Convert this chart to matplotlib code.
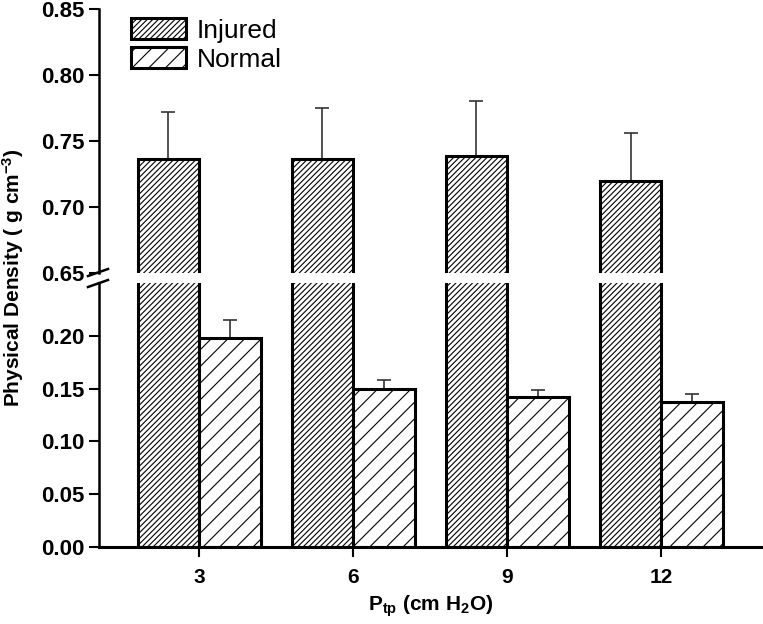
import numpy as np
import matplotlib
matplotlib.use('Agg')
import matplotlib.pyplot as plt
from matplotlib.lines import Line2D

plt.rcParams['font.family'] = 'Liberation Sans'
plt.rcParams['mathtext.fontset'] = 'custom'
plt.rcParams['mathtext.rm'] = 'Liberation Sans'
plt.rcParams['mathtext.bf'] = 'Liberation Sans:bold'
plt.rcParams['mathtext.it'] = 'Liberation Sans:italic'
plt.rcParams['hatch.linewidth'] = 0.8

# data
pressures = ['3', '6', '9', '12']
injured = [0.736, 0.736, 0.739, 0.720]
injured_err = [0.036, 0.039, 0.041, 0.036]
normal = [0.198, 0.150, 0.142, 0.137]
normal_err = [0.017, 0.008, 0.007, 0.008]
top_ticks = [0.65, 0.70, 0.75, 0.80, 0.85]
bot_ticks = [0.00, 0.05, 0.10, 0.15, 0.20]

x = np.arange(len(pressures))
w = 0.4

fig = plt.figure(figsize=(7.63, 6.24), dpi=100)
left, right = 99 / 763, 1.0
ax_top = fig.add_axes([left, 1 - 273 / 624, right - left, 264 / 624])
ax_bot = fig.add_axes([left, 1 - 547 / 624, right - left, 264 / 624])


def draw(ax):
    ax.bar(x - w / 2, injured, w, color='white', edgecolor='black', linewidth=2.2,
           hatch='//////', label='Injured', zorder=2)
    ax.bar(x + w / 2, normal, w, color='white', edgecolor='black', linewidth=2.2,
           hatch='//', label='Normal', zorder=2)
    ax.errorbar(x - w / 2, injured, yerr=[np.zeros(4), injured_err], fmt='none',
                ecolor='#333333', elinewidth=1.2, capsize=5, capthick=1.2, zorder=1)
    ax.errorbar(x + w / 2, normal, yerr=[np.zeros(4), normal_err], fmt='none',
                ecolor='#333333', elinewidth=1.2, capsize=5, capthick=1.2, zorder=1)
    ax.set_xlim(-0.65, 3.66)
    for s in ['top', 'right']:
        ax.spines[s].set_visible(False)
    ax.spines['left'].set_linewidth(1.8)
    ax.tick_params(axis='y', direction='out', length=7, width=1.5)


draw(ax_top)
draw(ax_bot)

ax_top.set_ylim(0.65, 0.85)
ax_top.set_yticks(top_ticks)
ax_top.set_yticklabels(['%.2f' % t for t in top_ticks], fontweight='bold', fontsize=16)
ax_top.spines['bottom'].set_visible(False)
ax_top.set_xticks([])

ax_bot.set_ylim(0, 0.25)
ax_bot.set_yticks(bot_ticks)
ax_bot.set_yticklabels(['%.2f' % t for t in bot_ticks], fontweight='bold', fontsize=16)
ax_bot.spines['bottom'].set_linewidth(2.2)
ax_bot.set_xticks(x)
ax_bot.set_xticklabels(pressures, fontweight='bold', fontsize=15)
ax_bot.tick_params(axis='x', direction='out', length=7, width=1.5, pad=8)

# break marks on the y axis
for yb in [276, 287]:
    fig.add_artist(Line2D([88 / 763, 108 / 763], [1 - yb / 624, 1 - (yb - 7) / 624],
                          color='black', linewidth=1.8))

ax_bot.set_xlabel(r'$\mathbf{P_{tp}}$ (cm H$\mathbf{_2}$O)', fontsize=15,
                  fontweight='bold', labelpad=5)
fig.text(13 / 763, 1 - 278 / 624, r'Physical Density ( g cm$\mathbf{^{-3}}$)',
         rotation=90, fontsize=15, fontweight='bold', ha='center', va='center')

ax_top.legend(loc='upper left', bbox_to_anchor=(0.048, 0.965), frameon=False,
              fontsize=19, handlelength=2.1, handleheight=0.85, handletextpad=0.4,
              labelspacing=0.15, borderpad=0, borderaxespad=0)

fig.savefig('out.png', dpi=100)
